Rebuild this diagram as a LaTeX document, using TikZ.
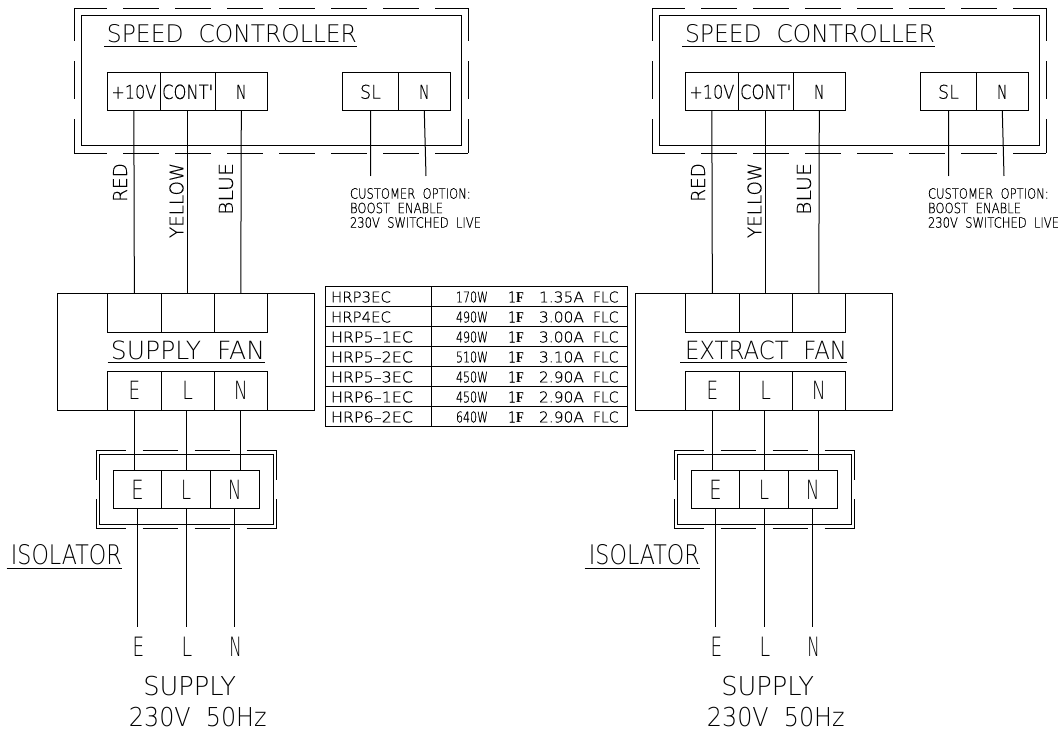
\documentclass[tikz,border=0pt]{standalone}
\usepackage{graphicx}
\usepackage{fontspec}
\setmainfont{DejaVu Sans ExtraLight}
\newfontfamily\cadsmall[FakeBold=0.5]{DejaVu Sans ExtraLight}
\newfontfamily\cadmid[FakeBold=0.25]{DejaVu Sans ExtraLight}
\newfontfamily\cadF{Liberation Serif}
\newlength\pxu \setlength\pxu{0.75pt}
\newcommand\TT[3]{\resizebox{#1\pxu}{#2\pxu}{\fontsize{15pt}{15pt}\selectfont #3}}
\newcommand\TM[3]{\resizebox{#1\pxu}{#2\pxu}{\fontsize{15pt}{15pt}\selectfont\cadmid #3}}
\newcommand\TS[3]{\resizebox{#1\pxu}{#2\pxu}{\fontsize{15pt}{15pt}\selectfont\cadsmall #3}}
\newcommand\Term[6]{\node[term,minimum width={(#3-#2)*0.75pt},minimum height={(#5-#4)*0.75pt}] (#1) at ({(#2+#3)/2},{(#4+#5)/2}) {#6};}
\newcommand\FlcF{{\cadF\textbf{F}}}
% row number, name, name width, power, current
\newcommand\Row[5]{%
 \node[cell,minimum width=106*0.75pt,minimum height=20*0.75pt] (lc#1) at (378,{296+20*(#1-1)}) {};
 \node[cell,minimum width=196*0.75pt,minimum height=20*0.75pt] (rc#1) at (529,{296+20*(#1-1)}) {};
 \node[txt,anchor=west] (ln#1) at (331,{297+20*(#1-1)}) {\TS{#3}{11}{#2}};
 \node[txt,anchor=west] (pw#1) at (456,{297+20*(#1-1)}) {\TS{32}{11}{#4}};
 \node[txt,anchor=west] (ph#1) at (508,{297+20*(#1-1)}) {\TS{16}{11}{1\FlcF}};
 \node[txt,anchor=west] (cu#1) at (539,{297+20*(#1-1)}) {\TS{45}{11}{#5}};
 \node[txt,anchor=west] (fl#1) at (593,{297+20*(#1-1)}) {\TS{25.5}{11}{FLC}};
}
% prefix, xshift, fan label, label centre, label width, underline from, underline to
\newcommand\Side[7]{%
\begin{scope}[shift={(#2,0)}]
 % speed controller
 \draw[wire] (81.3,15.7) rectangle (461,145.7);
 \draw[wire,dash pattern=on 36\pxu off 16\pxu,dash phase=3\pxu] (74.3,8.3) -- (468.3,8.3);
 \draw[wire,dash pattern=on 36\pxu off 16\pxu,dash phase=3\pxu] (74.3,153.3) -- (468.3,153.3);
 \draw[wire,dash pattern=on 38\pxu off 20\pxu,dash phase=5\pxu] (74.3,8.3) -- (74.3,153.3);
 \draw[wire,dash pattern=on 38\pxu off 20\pxu,dash phase=5\pxu] (468.3,8.3) -- (468.3,153.3);
 \node[txt] (#1title) at (232,34) {\TT{250}{18}{SPEED\ \ CONTROLLER}};
 \draw[wire] (104,46.5) -- (357,46.5);
 \Term{#1ten}{107.7}{160}{72.7}{111}{\TM{45}{14}{+10V}}
 \Term{#1cont}{160}{215.3}{72.7}{111}{\TM{51}{14.5}{CONT'}}
 \Term{#1n}{215.3}{267.3}{72.7}{111}{\TM{10.5}{14}{N}}
 \Term{#1sl}{342.7}{398.3}{72.7}{111}{\TM{21}{14}{SL}}
 \Term{#1nb}{398.3}{450.3}{72.7}{111}{\TM{10.5}{14}{N}}
 \coordinate (#1slend) at (370.7,176);
 \coordinate (#1nbend) at (426,176);
 \draw[wire] (#1sl.south) -- (#1slend);
 \draw[wire] (#1nb.south) -- (#1nbend);
 \node[txt,anchor=west] (#1opta) at (350,193.5) {\TS{120.7}{10.5}{CUSTOMER\ \ OPTION:}};
 \node[txt,anchor=west] (#1optb) at (350,208) {\TS{93}{10.5}{BOOST\ \ ENABLE}};
 \node[txt,anchor=west] (#1optc) at (350,222.5) {\TS{131}{10.5}{230V\ \ SWITCHED\ \ LIVE}};
 \node[txt,rotate=90] (#1red) at (120,182.5) {\TM{38.5}{14}{RED}};
 \node[txt,rotate=90] (#1yel) at (176.5,200.5) {\TM{75}{14}{YELLOW}};
 \node[txt,rotate=90] (#1blu) at (226,189) {\TM{52}{14}{BLUE}};
 % fan
 \draw[wire] (57.7,293.3) rectangle (314.3,410);
 \Term{#1fa}{107.7}{161}{293.3}{332.5}{}
 \Term{#1fb}{161}{214.3}{293.3}{332.5}{}
 \Term{#1fc}{214.3}{267.3}{293.3}{332.5}{}
 \draw[wire] (#1ten.south) -- (#1fa.north);
 \draw[wire] (#1cont.south) -- (#1fb.north);
 \draw[wire] (#1n.south) -- (#1fc.north);
 \node[txt] (#1fan) at (#4,350) {\TT{#5}{18.6}{#3}};
 \draw[wire,line width=1pt] (#6,362.7) -- (#7,362.7);
 \Term{#1fe}{107.7}{161}{371.3}{410}{\TT{11.6}{18.3}{E}}
 \Term{#1fl}{161}{214.3}{371.3}{410}{\TT{10.6}{18.3}{L}}
 \Term{#1fn}{214.3}{267.3}{371.3}{410}{\TT{13.6}{18.3}{N}}
 % isolator
 \draw[wire] (99.3,454.3) rectangle (273.3,524.3);
 \draw[wire,dash pattern=on 35.5\pxu off 16.5\pxu,dash phase=5.5\pxu] (96,450.7) -- (276.7,450.7);
 \draw[wire,dash pattern=on 35.5\pxu off 16.5\pxu,dash phase=5.5\pxu] (96,528.3) -- (276.7,528.3);
 \draw[wire,dash pattern=on 29\pxu off 19.6\pxu] (96,450.7) -- (96,528.3);
 \draw[wire,dash pattern=on 29\pxu off 19.6\pxu] (276.7,450.7) -- (276.7,528.3);
 \Term{#1ie}{113.3}{161.7}{470}{508.7}{\TT{12.3}{19.3}{E}}
 \Term{#1il}{161.7}{210.3}{470}{508.7}{\TT{10}{19.3}{L}}
 \Term{#1in}{210.3}{259}{470}{508.7}{\TT{13.3}{19.3}{N}}
 \draw[wire] (#1fe.south) -- (#1fe.south |- #1ie.north);
 \draw[wire] (#1il.north) -- (#1il.north |- #1fl.south);
 \draw[wire] (#1fn.south) -- (#1fn.south |- #1in.north);
 \node[txt] (#1iso) at (66.3,555) {\TT{110.7}{20}{ISOLATOR}};
 \draw[wire] (6.7,568.3) -- (121.7,568.3);
 % supply
 \node[txt] (#1se) at (138.5,647) {\TT{11.6}{19.4}{E}};
 \node[txt] (#1sl2) at (187,647) {\TT{10.6}{19.4}{L}};
 \node[txt] (#1sn) at (235.5,647) {\TT{12.4}{19.4}{N}};
 \draw[wire,shorten >=7.5pt] (#1ie.south) -- (#1ie.south |- #1se.north);
 \draw[wire,shorten >=7.5pt] (#1il.south) -- (#1il.south |- #1sl2.north);
 \draw[wire,shorten >=7.5pt] (#1in.south) -- (#1in.south |- #1sn.north);
 \node[txt] (#1supply) at (189.7,686.3) {\TT{92.7}{19.3}{SUPPLY}};
 \node[txt] (#1volt) at (197.8,717) {\TT{137.7}{19.3}{230V\ \ 50Hz}};
\end{scope}}
\tikzset{
  x=0.75pt,y=-0.75pt,
  wire/.style={draw=black,line width=0.75pt},
  term/.style={draw=black,line width=0.75pt,rectangle,inner sep=0pt,outer sep=0pt},
  cell/.style={draw=black,line width=0.75pt,rectangle,inner sep=0pt,outer sep=0pt},
  txt/.style={inner sep=0pt,outer sep=0pt,text=black},
}
\begin{document}
\begin{tikzpicture}
\useasboundingbox (0,0) rectangle (1064,731);
\Side{a}{0}{SUPPLY\ \ FAN}{188}{154}{107.7}{265}
\Side{b}{578}{EXTRACT\ \ FAN}{188}{162}{102}{269}
\Row{1}{HRP3EC}{60}{170W}{1.35A}
\Row{2}{HRP4EC}{60}{490W}{3.00A}
\Row{3}{HRP5–1EC}{82}{490W}{3.00A}
\Row{4}{HRP5–2EC}{82}{510W}{3.10A}
\Row{5}{HRP5–3EC}{82}{450W}{2.90A}
\Row{6}{HRP6–1EC}{82}{450W}{2.90A}
\Row{7}{HRP6–2EC}{82}{640W}{2.90A}
\end{tikzpicture}
\end{document}
